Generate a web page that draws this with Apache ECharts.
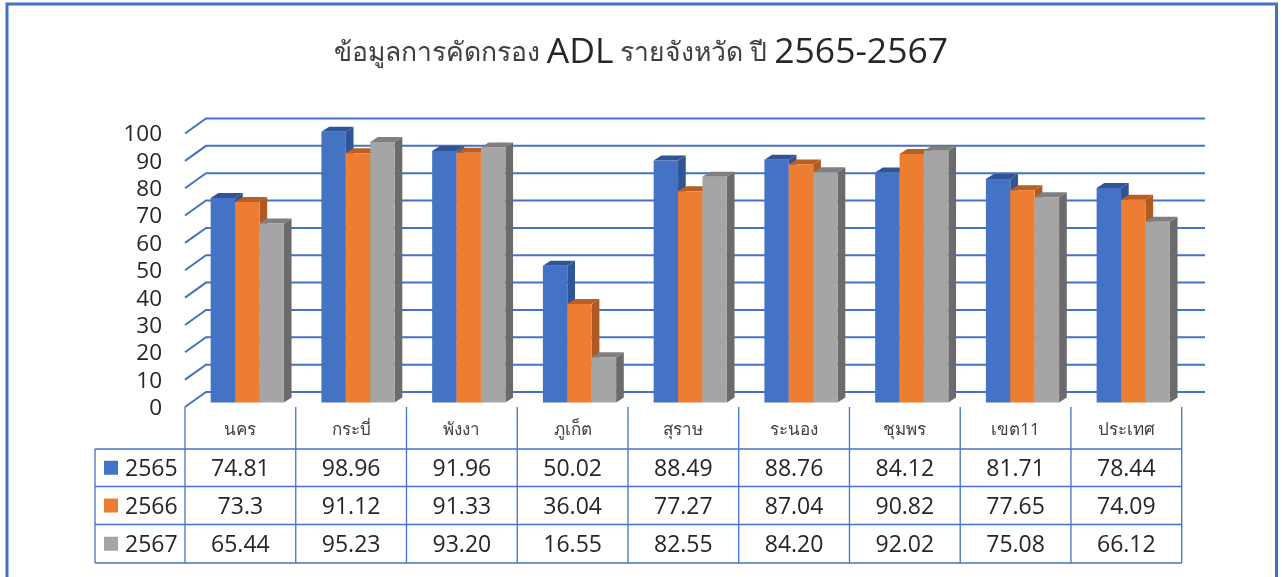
<!DOCTYPE html>
<html><head><meta charset="utf-8">
<style>html,body{margin:0;padding:0;background:#fff;overflow:hidden}#c{width:1282px;height:577px}</style>
<script src="https://cdn.jsdelivr.net/npm/echarts@6/dist/echarts.min.js"></script>
</head><body><div id="c"></div>
<script>
const titleThaiA = 'ข้อมูลการคัดกรอง';
const titleLatinA = 'ADL';
const titleThaiB = 'รายจังหวัด ปี';
const titleLatinB = '2565-2567';
const categories = ['นคร','กระบี่','พังงา','ภูเก็ต','สุราษ','ระนอง','ชุมพร','เขต11','ประเทศ'];
const seriesNames = ['2565','2566','2567'];
const values2565 = ['74.81','98.96','91.96','50.02','88.49','88.76','84.12','81.71','78.44'];
const values2566 = ['73.3','91.12','91.33','36.04','77.27','87.04','90.82','77.65','74.09'];
const values2567 = ['65.44','95.23','93.20','16.55','82.55','84.20','92.02','75.08','66.12'];
const yTicks = [0,10,20,30,40,50,60,70,80,90,100];
const rows = [values2565, values2566, values2567];

const FONT = '"Open Sans","DejaVu Sans",sans-serif';
const BLUE = '#4472C4', TEXT = '#404040', NUM = '#262626';
const faces = [
  {front:'#4472C4', top:'#2F5597', side:'#2F5597'},
  {front:'#ED7D31', top:'#B85F22', side:'#AE5A21'},
  {front:'#A5A5A5', top:'#7F7F7F', side:'#6B6B6B'}
];
const BAR_W = 24.4, DX = 7.7, DY = 5, WALL_DX = 21, WALL_DY = 15, WALL_END = 1205;
const ROW_Y = [449, 486.5, 524.5, 563], TABLE_LEFT = 95, TABLE_TOP = 407;

function barRender(si){
  return function(params, api){
    const p0 = api.coord([api.value(0), 0]);
    const p1 = api.coord([api.value(0), api.value(1)]);
    const x0 = p0[0] - 29.7 + si*BAR_W, x1 = x0 + BAR_W;
    const yb = p0[1] - 4.5, yt = p1[1] - 4.5;
    const f = faces[si];
    return {type:'group', children:[
      {type:'polygon', shape:{points:[[x1,yb],[x1+DX,yb-DY],[x1+DX,yt-DY],[x1,yt]]}, style:{fill:f.side}},
      {type:'polygon', shape:{points:[[x0,yt],[x1,yt],[x1+DX,yt-DY],[x0+DX,yt-DY]]}, style:{fill:f.top}},
      {type:'rect', shape:{x:x0,y:yt,width:BAR_W,height:yb-yt}, style:{fill:f.front}}
    ]};
  };
}
function wallRender(params, api){
  const p = api.coord([0, api.value(0)]);
  const x = params.coordSys.x;
  return {type:'group', children:[
    {type:'polyline', shape:{points:[[x,p[1]],[x+WALL_DX,p[1]-WALL_DY],[WALL_END,p[1]-WALL_DY]]},
      style:{stroke:BLUE, lineWidth:2, fill:null}},
    {type:'text', style:{x:x-23,y:p[1]+1.5,text:String(api.value(0)),font:'22.5px '+FONT,fill:NUM,align:'right',verticalAlign:'middle'}}
  ]};
}
function tableRender(params, api){
  const i = api.value(0), cs = params.coordSys;
  const cw = cs.width/categories.length;
  const cx = api.coord([i,0])[0];
  const kids = [];
  const xL = cs.x + cw*i, xR = xL + cw;
  kids.push({type:'line', shape:{x1:xL,y1:TABLE_TOP,x2:xL,y2:ROW_Y[3]}, style:{stroke:BLUE,lineWidth:1.3}});
  if(i===categories.length-1) kids.push({type:'line', shape:{x1:xR,y1:TABLE_TOP,x2:xR,y2:ROW_Y[3]}, style:{stroke:BLUE,lineWidth:1.3}});
  kids.push({type:'text', style:{x:cx,y:430,text:categories[i],font:'17px '+FONT,fill:TEXT,align:'center',verticalAlign:'middle'}});
  rows.forEach(function(r,k){
    kids.push({type:'text', style:{x:cx,y:(ROW_Y[k]+ROW_Y[k+1])/2+1.5,text:r[i],font:'23px '+FONT,fill:NUM,align:'center',verticalAlign:'middle'}});
  });
  return {type:'group', children:kids};
}

const chart = echarts.init(document.getElementById('c'), null, {renderer:'canvas'});
const graphicEls = [
  {type:'rect', shape:{x:7,y:4,width:1269.5,height:620}, style:{fill:null,stroke:BLUE,lineWidth:3}, z:1},
  {type:'line', shape:{x1:TABLE_LEFT,y1:ROW_Y[0],x2:TABLE_LEFT,y2:ROW_Y[3]}, style:{stroke:BLUE,lineWidth:1.3}}
];
ROW_Y.forEach(function(y){
  graphicEls.push({type:'line', shape:{x1:TABLE_LEFT,y1:y,x2:1181.7,y2:y}, style:{stroke:BLUE,lineWidth:1.3}});
});
seriesNames.forEach(function(n,k){
  const yc = (ROW_Y[k]+ROW_Y[k+1])/2;
  graphicEls.push({type:'rect', shape:{x:104,y:yc-7,width:14,height:14}, style:{fill:faces[k].front}});
  graphicEls.push({type:'text', style:{x:125,y:yc+1.5,text:n,font:'23px '+FONT,fill:NUM,align:'left',verticalAlign:'middle'}});
});

const series = [
  {type:'custom', name:'wall', renderItem:wallRender, data:yTicks.map(function(v){return [v];}), encode:{y:0}, z:1, silent:true, clip:false},
  {type:'custom', name:'table', renderItem:tableRender, data:categories.map(function(c,i){return [i];}), encode:{x:0}, z:2, silent:true, clip:false}
];
rows.forEach(function(r,si){
  series.push({type:'custom', name:seriesNames[si], renderItem:barRender(si),
    data:r.map(function(v,i){return [i,Number(v)];}), encode:{x:0,y:1}, z:3+si, clip:false});
});

chart.setOption({
  animation:false,
  backgroundColor:'#fff',
  title:{
    text:'{t|'+titleThaiA+' }{a|'+titleLatinA+'}{t| '+titleThaiB+' }{a|'+titleLatinB+'}',
    left:'center', top:26,
    textStyle:{fontFamily:FONT,fontWeight:'normal',color:TEXT,rich:{
      t:{fontFamily:FONT,fontSize:26.5,color:'#404040',lineHeight:44},
      a:{fontFamily:FONT,fontSize:35.5,color:'#262626',lineHeight:44}
    }}
  },
  grid:{left:185,top:133.5,width:996.7,height:273.5,containLabel:false},
  xAxis:{type:'category',data:categories,axisLine:{show:false},axisTick:{show:false},axisLabel:{show:false},splitLine:{show:false}},
  yAxis:{type:'value',min:0,max:100,interval:10,axisLine:{show:false},axisTick:{show:false},axisLabel:{show:false},splitLine:{show:false}},
  graphic:graphicEls,
  series:series
});
</script></body></html>
